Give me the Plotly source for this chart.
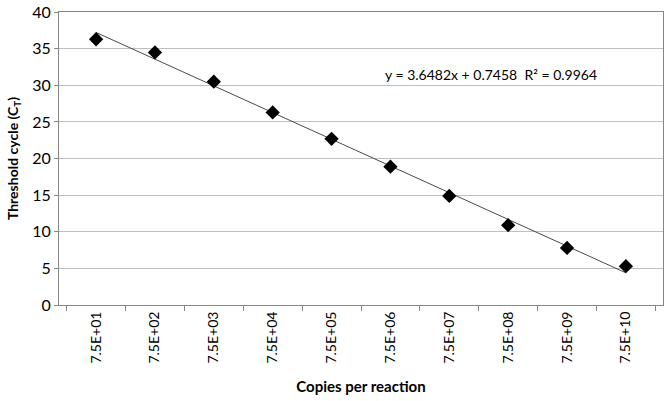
import numpy as np
import plotly.graph_objects as go

copies = ["7.5E+01", "7.5E+02", "7.5E+03", "7.5E+04", "7.5E+05",
          "7.5E+06", "7.5E+07", "7.5E+08", "7.5E+09", "7.5E+10"]
ct = [36.3, 34.5, 30.5, 26.3, 22.7, 18.9, 14.9, 10.9, 7.8, 5.3]

equation = "y = 3.6482x + 0.7458  R² = 0.9964"

# linear trendline against the category index (1..10), like Excel does
idx = np.arange(1, len(ct) + 1)
slope, intercept = np.polyfit(idx, ct, 1)
fit = slope * idx + intercept

FONT = "Lato, Open Sans, sans-serif"

fig = go.Figure()
fig.add_trace(go.Scatter(x=copies, y=fit, mode="lines",
                         line=dict(color="#4a4a4a", width=1),
                         hoverinfo="skip", showlegend=False))
fig.add_trace(go.Scatter(x=copies, y=ct, mode="markers",
                         marker=dict(symbol="diamond", size=11, color="black"),
                         showlegend=False))

fig.add_annotation(text=equation, x=0.715, y=0.786, xref="paper", yref="paper",
                   xanchor="center", yanchor="middle", showarrow=False,
                   font=dict(family=FONT, size=14, color="black"))

fig.update_layout(
    width=666, height=401,
    margin=dict(l=59, r=2, t=6, b=96),
    paper_bgcolor="white", plot_bgcolor="white",
    font=dict(family=FONT, color="black"),
    xaxis=dict(
        type="category",
        tickangle=-90,
        tickfont=dict(size=14),
        showgrid=False,
        showline=True, linecolor="#868686", linewidth=1, mirror=True,
        ticks="outside", tickson="boundaries", ticklen=5, tickcolor="#868686",
        title=dict(text="<b>Copies per reaction</b>", font=dict(size=15), standoff=18),
    ),
    yaxis=dict(
        range=[0, 40.02], tickvals=[0, 5, 10, 15, 20, 25, 30, 35, 40],
        tickfont=dict(size=16), ticklabeloverflow="allow",
        showgrid=True, gridcolor="#bfbfbf", gridwidth=1,
        showline=True, linecolor="#868686", linewidth=1, mirror=True,
        ticks="outside", ticklen=4, tickcolor="#868686",
        zeroline=False,
        title=dict(text="<b>Threshold cycle (C<sub>T</sub>)</b>", font=dict(size=14), standoff=10),
    ),
)

# the page body has a default 8px margin; drop it so the chart sits at 0,0
fig.write_html("out.html", config={"displayModeBar": False},
               post_script="document.body.style.margin='0';")
